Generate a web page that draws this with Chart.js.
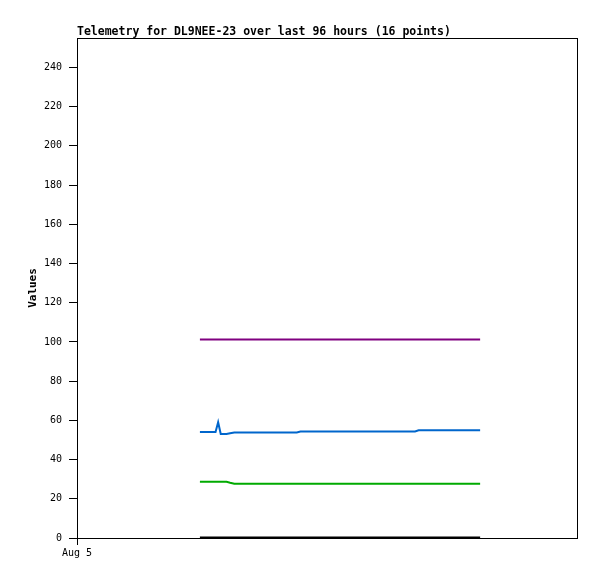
<!DOCTYPE html>
<html>
<head>
<meta charset="utf-8">
<script src="https://cdn.jsdelivr.net/npm/chart.js@4"></script>
<style>
  body { margin: 0; background: #fff; }
  #wrap { width: 597px; height: 579px; }
</style>
</head>
<body>
<div id="wrap"><canvas id="myChart" width="597" height="579"></canvas></div>
<script>
// hours since Aug 5 00:00
const hours = [23.6, 26.6, 27.1, 27.6, 28.7, 29.4, 30.2, 36.0, 42.2, 42.9, 50.0, 57.5, 64.9, 65.6, 72.0, 77.4];
const purpleVals = [101.2, 101.2, 101.2, 101.2, 101.2, 101.2, 101.2, 101.2, 101.2, 101.2, 101.2, 101.2, 101.2, 101.2, 101.2, 101.2];
const blueVals = [54.0, 54.0, 59.0, 53.0, 53.0, 53.4, 53.8, 53.8, 53.8, 54.3, 54.3, 54.3, 54.3, 54.9, 54.9, 54.9];
const greenVals = [28.7, 28.7, 28.7, 28.7, 28.7, 28.2, 27.7, 27.7, 27.7, 27.7, 27.7, 27.7, 27.7, 27.7, 27.7, 27.7];
const blackVals = [0.2, 0.2, 0.2, 0.2, 0.2, 0.2, 0.2, 0.2, 0.2, 0.2, 0.2, 0.2, 0.2, 0.2, 0.2, 0.2];
const xTicks = [0];
const xTickLabels = ['Aug 5'];
const yTicks = [0, 20, 40, 60, 80, 100, 120, 140, 160, 180, 200, 220, 240];

const mono = "'DejaVu Sans Mono', 'Liberation Mono', monospace";

function series(vals, color) {
    return {
        data: hours.map((h, i) => ({ x: h, y: vals[i] })),
        borderColor: color,
        borderWidth: 2,
        pointRadius: 0,
        tension: 0,
        fill: false
    };
}

const frame = {
    id: 'frame',
    afterDraw(chart) {
        const c = chart.ctx, a = chart.chartArea;
        c.save();
        c.strokeStyle = '#000';
        c.lineWidth = 1;
        c.strokeRect(a.left + 0.5, a.top + 0.5, a.right - a.left, a.bottom - a.top);
        c.fillStyle = '#000';
        c.font = 'bold 11.5px ' + mono;
        c.textBaseline = 'alphabetic';
        c.textAlign = 'left';
        c.fillText('Telemetry for DL9NEE-23 over last 96 hours (16 points)', 77, 35);
        c.translate(36, 288);
        c.rotate(-Math.PI / 2);
        c.textAlign = 'center';
        c.font = 'bold 11px ' + mono;
        c.fillText('Values', 0, 0);
        c.restore();
    }
};

const ctx = document.getElementById('myChart');

new Chart(ctx, {
    type: 'line',
    data: {
        datasets: [
            series(purpleVals, 'rgb(128, 0, 128)'),
            series(blueVals, 'rgb(0, 102, 204)'),
            series(greenVals, 'rgb(0, 170, 0)'),
            series(blackVals, 'rgb(0, 0, 0)')
        ]
    },
    options: {
        responsive: false,
        animation: false,
        layout: { padding: { top: 38, right: 20, left: 0, bottom: 0 } },
        plugins: {
            legend: { display: false },
            tooltip: { enabled: false }
        },
        scales: {
            x: {
                type: 'linear',
                min: 0,
                max: 96,
                afterBuildTicks: s => { s.ticks = xTicks.map(v => ({ value: v })); },
                afterFit: s => { s.height = 41; },
                ticks: {
                    callback: (v, i) => xTickLabels[i],
                    color: '#000',
                    font: { family: mono, size: 10 },
                    maxRotation: 0,
                    padding: 2
                },
                grid: { drawOnChartArea: false, drawTicks: true, tickLength: 7, color: '#000' },
                border: { color: '#000' }
            },
            y: {
                min: 0,
                max: 255,
                afterBuildTicks: s => { s.ticks = yTicks.map(v => ({ value: v })); },
                afterFit: s => { s.width = 77; },
                ticks: {
                    color: '#000',
                    font: { family: mono, size: 10 },
                    padding: 7
                },
                grid: { drawOnChartArea: false, drawTicks: true, tickLength: 8, color: '#000' },
                border: { color: '#000' }
            }
        }
    },
    plugins: [frame]
});
</script>
</body>
</html>
